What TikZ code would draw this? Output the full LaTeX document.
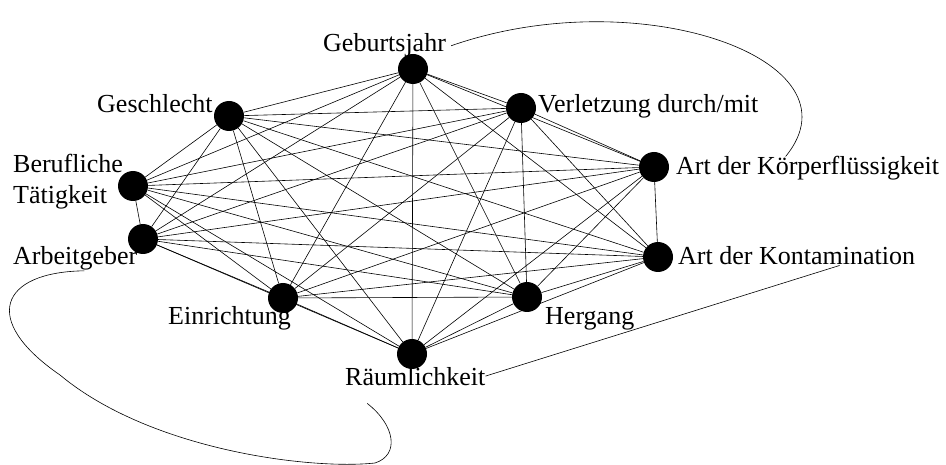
\documentclass[tikz,border=0pt]{standalone}
\usepackage{fontspec}
\setmainfont{Liberation Serif}
\begin{document}
\begin{tikzpicture}[x=1pt,y=-1pt,
  vertex/.style={circle,fill=black,minimum size=30pt,inner sep=0pt},
  lbl/.style={inner sep=0pt,font=\fontsize{26}{31}\selectfont},
  edge/.style={line width=0.6pt}]
  \useasboundingbox (0,0) rectangle (946,465);
  % vertices
  \node[vertex] (geb) at (413,69) {};
  \node[vertex] (verl) at (521,108) {};
  \node[vertex] (koerp) at (654,167) {};
  \node[vertex] (kont) at (658,257) {};
  \node[vertex] (herg) at (527,297) {};
  \node[vertex] (raum) at (412,354) {};
  \node[vertex] (einr) at (283,298) {};
  \node[vertex] (arbg) at (143,239) {};
  \node[vertex] (beruf) at (133,186) {};
  \node[vertex] (geschl) at (229,116) {};
  % labels
  \node[lbl,anchor=base west] (gebL) at (323,52) {Geburtsjahr};
  \node[lbl,anchor=base west] (verlL) at (538,113) {Verletzung durch/mit};
  \node[lbl,anchor=base west] (koerpL) at (676,175) {Art der Körperflüssigkeit};
  \node[lbl,anchor=base west] (kontL) at (678,265) {Art der Kontamination};
  \node[lbl,anchor=base west] (hergL) at (545,325) {Hergang};
  \node[lbl,anchor=base west] (raumL) at (345,385) {Räumlichkeit};
  \node[lbl,anchor=base west] (einrL) at (168,325) {Einrichtung};
  \node[lbl,anchor=base west] (arbgL) at (13,265) {Arbeitgeber};
  \node[lbl,anchor=south west,align=left] (berufL) at (13,209) {Berufliche\\Tätigkeit};
  \node[lbl,anchor=base west] (geschlL) at (97,113) {Geschlecht};
  % every pair joined
  \foreach \a [count=\i] in {geb,verl,koerp,kont,herg,raum,einr,arbg,beruf,geschl}
    \foreach \b [count=\j] in {geb,verl,koerp,kont,herg,raum,einr,arbg,beruf,geschl}
    {
      \ifnum\j>\i \draw[edge] (\a) -- (\b); \fi
    }
  % links between labels
  \draw[edge] ([xshift=5pt]gebL.east) .. controls (640,-20) and (865,60) .. ([xshift=-22pt]koerpL.north);
  \draw[edge] ([xshift=9pt]arbgL.south) .. controls (0,272) and (-20,320) .. (60,375)
    .. controls (150,450) and (310,470) .. (375,463)
    .. controls (400,455) and (395,425) .. ([xshift=-48pt,yshift=-18pt]raumL.south);
  \draw[edge] (raumL.east) -- ([xshift=43pt]kontL.south);
\end{tikzpicture}
\end{document}
